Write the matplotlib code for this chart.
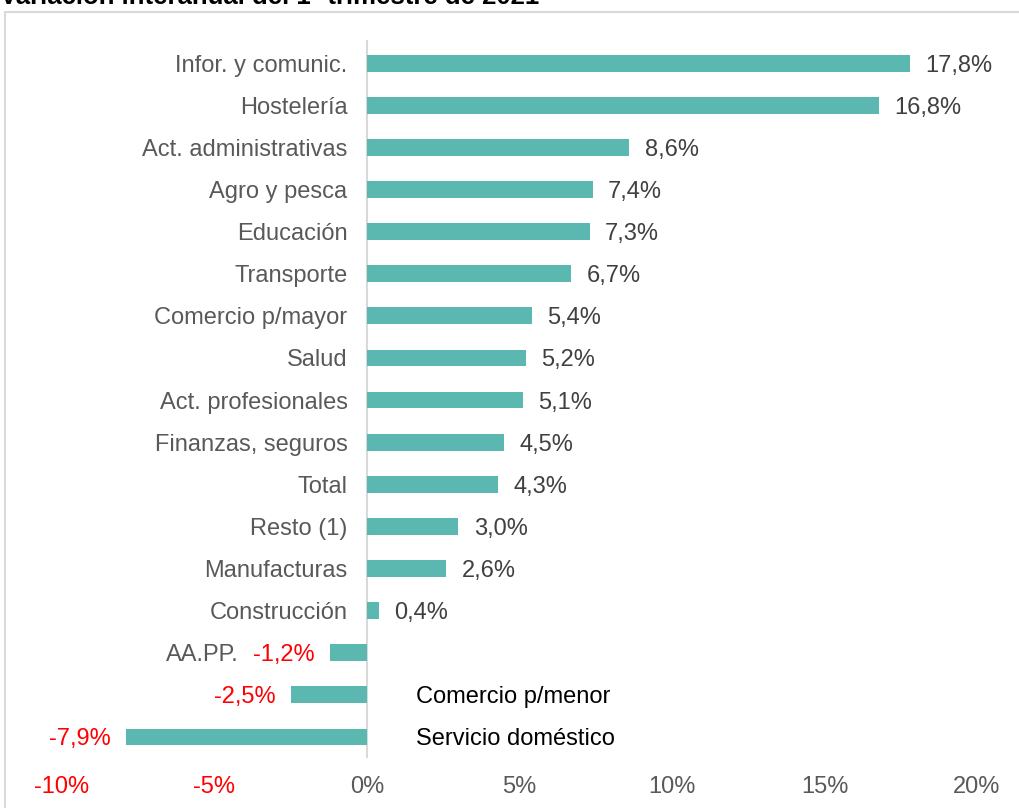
import matplotlib
matplotlib.use("Agg")
import matplotlib.pyplot as plt
from matplotlib.patches import Rectangle

categories = ["Infor. y comunic.", "Hostelería", "Act. administrativas", "Agro y pesca",
              "Educación", "Transporte", "Comercio p/mayor", "Salud",
              "Act. profesionales", "Finanzas, seguros", "Total", "Resto (1)",
              "Manufacturas", "Construcción", "AA.PP.", "Comercio p/menor",
              "Servicio doméstico"]
values = [17.8, 16.8, 8.6, 7.4, 7.3, 6.7, 5.4, 5.2, 5.1, 4.5, 4.3, 3.0, 2.6, 0.4,
          -1.2, -2.5, -7.9]
xticks = [-10, -5, 0, 5, 10, 15, 20]
title = "Variación interanual del 1º trimestre de 2021"

plt.rcParams['font.family'] = ['Liberation Sans', 'DejaVu Sans']
bar_color = '#5bb8b1'
grey = '#595959'
fs = 17

fig = plt.figure(figsize=(10.19, 8.08), dpi=100)
fig.patches.append(Rectangle((5 / 1019, -0.1), 1.2, (808 - 12) / 808 + 0.1,
                             transform=fig.transFigure, fill=False,
                             edgecolor='#d9d9d9', linewidth=1.5))
fig.text(0.0, (808 - 4) / 808, title, fontsize=18.5, fontweight='bold', color='black',
         va='baseline', ha='left')

ax = fig.add_axes([62 / 1019, 50 / 808, 915 / 1019, 718 / 808])
ypos = list(range(len(categories)))
ax.barh(ypos, values, height=0.4, color=bar_color, zorder=2)
ax.axvline(0, color='#d9d9d9', linewidth=1.5, zorder=1)
ax.set_xlim(-10, 20)
ax.set_ylim(16.5, -0.55)
ax.set_yticks([])
ax.set_xticks(xticks)
ax.set_xticklabels([f"{t}%" for t in xticks], fontsize=fs)
for t, lab in zip(xticks, ax.get_xticklabels()):
    lab.set_color('red' if t < 0 else grey)
ax.tick_params(axis='x', length=0, pad=13)
for s in ax.spines.values():
    s.set_visible(False)

for y, (cat, v) in enumerate(zip(categories, values)):
    txt = f"{v:.1f}%".replace('.', ',')
    if v >= 0:
        ax.annotate(cat, (0, y), xytext=(-14, 0), textcoords='offset points',
                    ha='right', va='center_baseline', fontsize=fs, color=grey)
        ax.annotate(txt, (v, y), xytext=(11, 0), textcoords='offset points',
                    ha='left', va='center_baseline', fontsize=fs, color='#404040')
    else:
        ax.annotate(txt, (v, y), xytext=(-11, 0), textcoords='offset points',
                    ha='right', va='center_baseline', fontsize=fs, color='red')
        if cat == "AA.PP.":
            ax.annotate(cat, (v, y), xytext=(-66, 0), textcoords='offset points',
                        ha='right', va='center_baseline', fontsize=fs, color=grey)
        else:
            ax.annotate(cat, (0, y), xytext=(35, 0), textcoords='offset points',
                        ha='left', va='center_baseline', fontsize=fs, color='black')

fig.savefig("out.png", dpi=100)
